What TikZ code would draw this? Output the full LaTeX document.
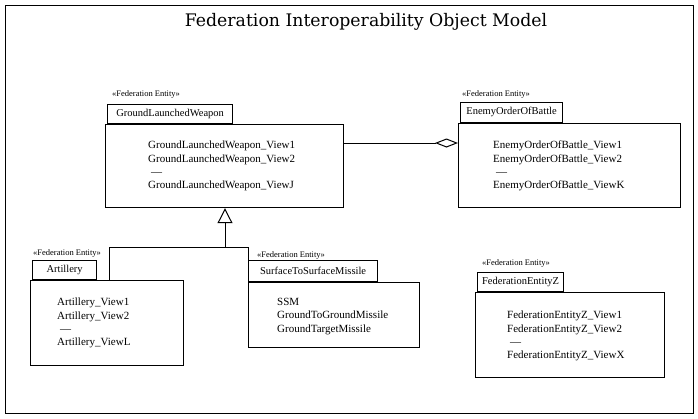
\documentclass[tikz,border=0pt]{standalone}
\usepackage{fontspec}
\setmainfont{Liberation Serif}
\newfontfamily\titlefont{DejaVu Serif}
\usetikzlibrary{arrows.meta}
\begin{document}
\begin{tikzpicture}[x=1pt,y=-1pt,
  frame/.style={draw, line width=0.8pt},
  classbox/.style={draw, line width=1.2pt, anchor=north west, inner sep=0pt},
  nametab/.style={draw, line width=1.2pt, anchor=south west, inner sep=0pt,
    font=\fontsize{10.5}{12}\selectfont},
  stereo/.style={anchor=west, inner sep=0pt, font=\fontsize{8.5}{10}\selectfont},
  views/.style={anchor=north west, inner sep=0pt, align=left,
    font=\fontsize{11}{13.3}\selectfont},
  link/.style={line width=1pt},
]
\useasboundingbox (0,0) rectangle (698,418);
\draw[frame] (5,5) rectangle (693,413);

% title
\node[font=\titlefont\fontsize{17.3}{20}\selectfont] (title) at (366,22)
  {Federation Interoperability Object Model};

% GroundLaunchedWeapon
\node[stereo] (glwSt) at (112,94) {<<Federation Entity>>};
\node[classbox, minimum width=238pt, minimum height=83pt] (glw) at (105,124) {};
\node[nametab, minimum width=125pt, minimum height=19pt] (glwTab) at (107,124) {GroundLaunchedWeapon};
\node[views] (glwV) at (148,141) {GroundLaunchedWeapon\_View1\\GroundLaunchedWeapon\_View2\\\hspace*{3pt}---\\GroundLaunchedWeapon\_ViewJ};

% EnemyOrderOfBattle
\node[stereo] (eobSt) at (462,94) {<<Federation Entity>>};
\node[classbox, minimum width=222pt, minimum height=84pt] (eob) at (458,123) {};
\node[nametab, minimum width=102pt, minimum height=20pt] (eobTab) at (460,123) {EnemyOrderOfBattle};
\node[views] (eobV) at (493,141) {EnemyOrderOfBattle\_View1\\EnemyOrderOfBattle\_View2\\\hspace*{3pt}---\\EnemyOrderOfBattle\_ViewK};

% Artillery
\node[stereo] (artSt) at (33,253) {<<Federation Entity>>};
\node[classbox, minimum width=153pt, minimum height=85pt] (art) at (30,280) {};
\node[nametab, minimum width=64pt, minimum height=19pt] (artTab) at (32,280) {Artillery};
\node[views] (artV) at (57,298) {Artillery\_View1\\Artillery\_View2\\\hspace*{3pt}---\\Artillery\_ViewL};

% SurfaceToSurfaceMissile
\node[stereo] (ssmSt) at (257,255) {<<Federation Entity>>};
\node[classbox, minimum width=171pt, minimum height=65pt] (ssm) at (248,282) {};
\node[nametab, minimum width=129pt, minimum height=21pt] (ssmTab) at (248,282) {SurfaceToSurfaceMissile};
\node[views] (ssmV) at (277,298) {SSM\\GroundToGroundMissile\\GroundTargetMissile};

% FederationEntityZ
\node[stereo] (fezSt) at (482,263) {<<Federation Entity>>};
\node[classbox, minimum width=189pt, minimum height=85pt] (fez) at (475,292) {};
\node[nametab, minimum width=86pt, minimum height=19pt] (fezTab) at (477,292) {FederationEntityZ};
\node[views] (fezV) at (507,311) {FederationEntityZ\_View1\\FederationEntityZ\_View2\\\hspace*{3pt}---\\FederationEntityZ\_ViewX};

% aggregation
\coordinate (aggY) at (0,143);
\draw[link, -{Diamond[open, length=23pt, width=9pt, line width=1pt]}]
  (glw.east |- aggY) -- (eob.west |- aggY);

% generalization tree
\coordinate (fork) at (225,247);
\coordinate (forkL) at (109,247);
\draw[link] (art.north -| forkL) -- (forkL) -- (fork);
\draw[link] (ssmTab.north west) |- (fork);
\draw[link, -{Triangle[open, length=15pt, width=15pt, line width=1pt]}]
  (fork) -- (glw.south -| fork);
\end{tikzpicture}
\end{document}
